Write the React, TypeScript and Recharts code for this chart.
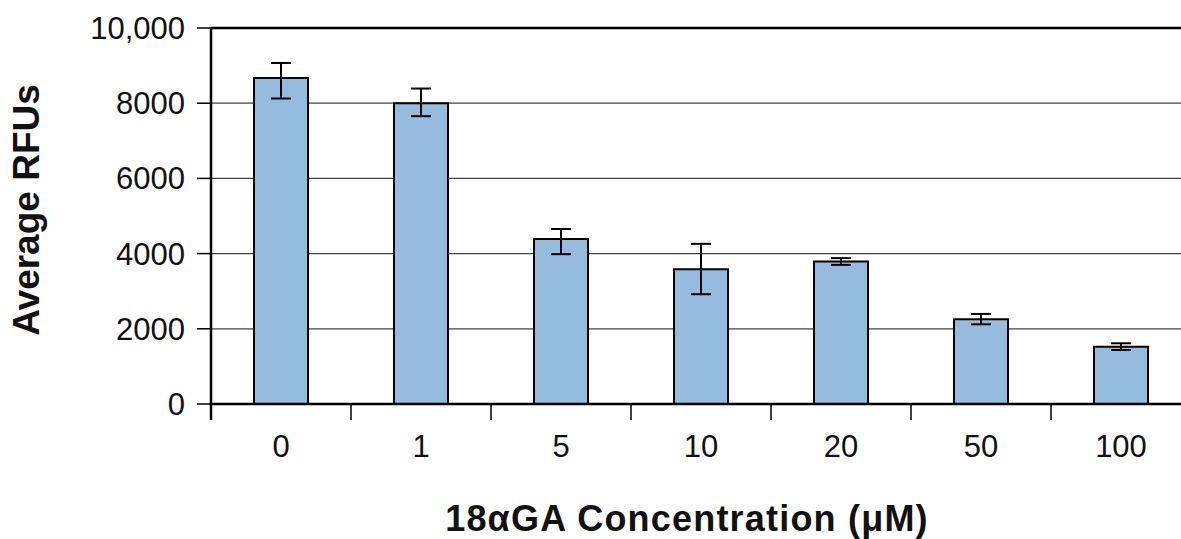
import React from 'react';
import {
  BarChart,
  Bar,
  XAxis,
  YAxis,
  CartesianGrid,
  ErrorBar,
  ReferenceLine,
  Label,
} from 'recharts';

const categories = ['0', '1', '5', '10', '20', '50', '100'];
const averageRFUs = [8670, 8000, 4390, 3585, 3790, 2255, 1525];
const errorLow = [545, 345, 405, 665, 90, 135, 88];
const errorHigh = [400, 390, 265, 675, 90, 140, 90];
const yTicks = [0, 2000, 4000, 6000, 8000, 10000];

const xTitle = '18\u03b1GA Concentration (\u03bcM)';
const yTitle = 'Average RFUs';

const FONT = '"Liberation Sans", Arial, Helvetica, sans-serif';
const CHART_W = 1200;
const CHART_H = 539;
const MARGIN = { top: 28, right: 9, left: 0, bottom: 0 };
const Y_AXIS_W = 211;
const X_AXIS_H = 135;
const X_TICK_SIZE = 16;
const X_TICK_MARGIN = 15;
const PLOT_W = CHART_W - MARGIN.left - MARGIN.right - Y_AXIS_W;

const data = categories.map((c, i) => ({
  conc: c,
  value: averageRFUs[i],
  err: [errorLow[i], errorHigh[i]],
}));

const XTick = (props: any) => {
  const { x, y, payload, index } = props;
  const band = PLOT_W / categories.length;
  const axisY = y - X_TICK_SIZE - X_TICK_MARGIN;
  const bx = x - band / 2;
  return (
    <g>
      <line
        x1={bx}
        x2={bx}
        y1={axisY}
        y2={axisY + X_TICK_SIZE}
        stroke="#000"
        strokeWidth={index === 0 ? 2.5 : 1.5}
      />
      <text
        x={x}
        y={y}
        dy="0.71em"
        textAnchor="middle"
        fill="#111"
        fontSize={31}
        fontFamily={FONT}
      >
        {payload.value}
      </text>
    </g>
  );
};

const XTitle = (props: any) => {
  const vb = props.viewBox || {};
  return (
    <text
      x={vb.x + vb.width / 2 - 14}
      y={vb.y + vb.height - 8}
      textAnchor="middle"
      fill="#111"
      fontSize={36}
      fontWeight="bold"
      letterSpacing={1.2}
      fontFamily={FONT}
    >
      {xTitle}
    </text>
  );
};

const YTitle = (props: any) => {
  const vb = props.viewBox || {};
  const cx = vb.x + 39;
  const cy = vb.y + vb.height / 2 - 6;
  return (
    <text
      x={cx}
      y={cy}
      transform={`rotate(-90 ${cx} ${cy})`}
      textAnchor="middle"
      fill="#111"
      fontSize={37}
      fontWeight="bold"
      fontFamily={FONT}
    >
      {yTitle}
    </text>
  );
};

export default function App() {
  return (
    <div
      style={{
        position: 'fixed',
        left: 0,
        top: 0,
        width: 1181,
        height: 539,
        overflow: 'hidden',
        background: '#fff',
      }}
    >
      <BarChart width={CHART_W} height={CHART_H} data={data} margin={MARGIN}>
        <CartesianGrid vertical={false} stroke="#444" strokeWidth={1.2} />
        <XAxis
          dataKey="conc"
          height={X_AXIS_H}
          tickLine={false}
          tickSize={X_TICK_SIZE}
          tickMargin={X_TICK_MARGIN}
          axisLine={{ stroke: '#000', strokeWidth: 2.5 }}
          tick={<XTick />}
          interval={0}
        >
          <Label content={<XTitle />} />
        </XAxis>
        <YAxis
          width={Y_AXIS_W}
          domain={[0, 10000]}
          ticks={yTicks}
          interval={0}
          tickSize={14}
          tickMargin={12}
          tickFormatter={(v: number) => (v >= 10000 ? v.toLocaleString('en-US') : String(v))}
          tick={{ fill: '#111', fontSize: 31, fontFamily: FONT }}
          tickLine={{ stroke: '#000', strokeWidth: 1.5 }}
          axisLine={{ stroke: '#000', strokeWidth: 2.5 }}
        >
          <Label content={<YTitle />} />
        </YAxis>
        <ReferenceLine y={10000} stroke="#000" strokeWidth={2.5} />
        <Bar
          dataKey="value"
          fill="#95BBDF"
          stroke="#000"
          strokeWidth={2}
          barSize={54}
          isAnimationActive={false}
        >
          <ErrorBar dataKey="err" width={10} stroke="#000" strokeWidth={2} direction="y" isAnimationActive={false} />
        </Bar>
      </BarChart>
    </div>
  );
}
